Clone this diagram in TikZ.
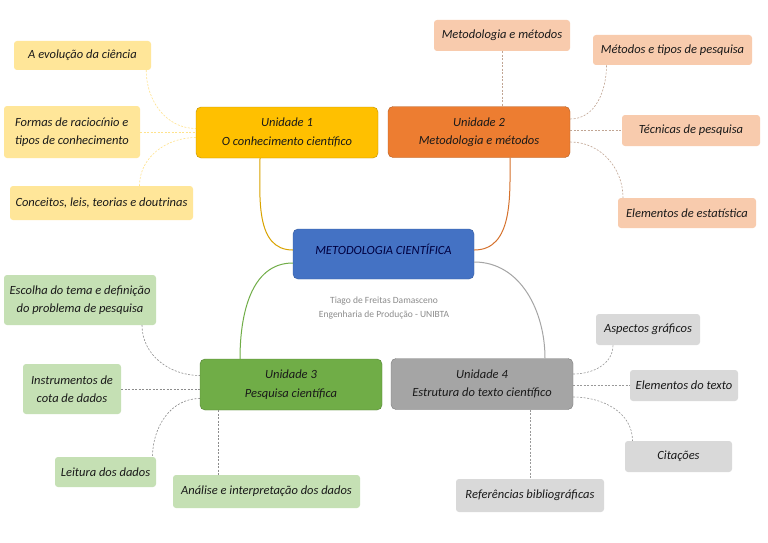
\documentclass[tikz,border=0pt]{standalone}
\usepackage{fontspec}
\setmainfont{Carlito}
\usepackage{tikz}
\usepackage{xcolor}
\definecolor{central-blue}{HTML}{4472C4}
\definecolor{u1-yellow}{HTML}{FFC000}
\definecolor{u2-orange}{HTML}{ED7D31}
\definecolor{u3-green}{HTML}{70AD47}
\definecolor{u4-gray}{HTML}{A5A5A5}
\definecolor{leaf-yellow}{HTML}{FFE699}
\definecolor{leaf-orange}{HTML}{F8CBAD}
\definecolor{leaf-green}{HTML}{C5E0B4}
\definecolor{leaf-gray}{HTML}{D9D9D9}
\tikzset{
    unit-box/.style = {rectangle, rounded corners=5pt, thin, minimum width=182pt, minimum height=51pt, align=center, inner sep=2pt, font=\fontsize{12.5}{18.5}\selectfont\itshape, text=black!90},
    leaf-box/.style = {rectangle, rounded corners=3pt, align=center, inner sep=2pt, font=\fontsize{12.5}{18.5}\selectfont\itshape, text=black!90},
    main-line/.style = {line width=1pt},
    leaf-line/.style = {line width=0.6pt, dash pattern=on 2pt off 1.5pt},
}

\begin{document}
\begin{tikzpicture}[x=1pt,y=1pt]
\fill[white] (0,0) rectangle (768,-543);

\node[unit-box, fill=central-blue, draw=central-blue!80!black, minimum width=181pt, minimum height=50pt, text depth=9pt, text=blue!25!black] (center) at (383.5,-254) {METODOLOGIA CIENTÍFICA};
\node[align=center, font=\fontsize{9.5}{14}\selectfont, text=black!45] (author) at (384,-308) {Tiago de Freitas Damasceno\\Engenharia de Produção - UNIBTA};

\node[unit-box, fill=u1-yellow, draw=u1-yellow!75!black] (u1) at (287,-132.5) {Unidade 1\\O conhecimento científico};
\node[unit-box, fill=u2-orange, draw=u2-orange!75!black] (u2) at (479,-132) {Unidade 2\\Metodologia e métodos};
\node[unit-box, fill=u3-green, draw=u3-green!75!black] (u3) at (291,-384.5) {Unidade 3\\Pesquisa científica};
\node[unit-box, fill=u4-gray, draw=u4-gray!75!black] (u4) at (482,-384) {Unidade 4\\Estrutura do texto científico};

\node[leaf-box, fill=leaf-yellow, minimum width=137pt, minimum height=29pt] (y1) at (82.5,-55.5) {A evolução da ciência};
\node[leaf-box, fill=leaf-yellow, minimum width=136pt, minimum height=52pt, align=left] (y2) at (72,-132) {Formas de raciocínio e\\tipos de conhecimento};
\node[leaf-box, fill=leaf-yellow, minimum width=183pt, minimum height=34pt] (y3) at (101.5,-203) {Conceitos, leis, teorias e doutrinas};

\node[leaf-box, fill=leaf-orange, minimum width=136pt, minimum height=31pt] (o1) at (502,-35.5) {Metodologia e métodos};
\node[leaf-box, fill=leaf-orange, minimum width=159pt, minimum height=30pt] (o2) at (672.5,-50) {Métodos e tipos de pesquisa};
\node[leaf-box, fill=leaf-orange, minimum width=138pt, minimum height=31pt] (o3) at (691,-130.5) {Técnicas de pesquisa};
\node[leaf-box, fill=leaf-orange, minimum width=138pt, minimum height=30pt] (o4) at (687,-213) {Elementos de estatística};

\node[leaf-box, fill=leaf-green, minimum width=152pt, minimum height=50pt] (g1) at (80,-300) {Escolha do tema e definição\\do problema de pesquisa};
\node[leaf-box, fill=leaf-green, minimum width=98pt, minimum height=50pt] (g2) at (72,-389) {Instrumentos de\\cota de dados};
\node[leaf-box, fill=leaf-green, minimum width=101pt, minimum height=30pt] (g3) at (105.5,-472) {Leitura dos dados};
\node[leaf-box, fill=leaf-green, minimum width=187pt, minimum height=33pt] (g4) at (266.5,-491.5) {Análise e interpretação dos dados};

\node[leaf-box, fill=leaf-gray, minimum width=104pt, minimum height=31pt] (c1) at (648,-329.5) {Aspectos gráficos};
\node[leaf-box, fill=leaf-gray, minimum width=108pt, minimum height=31pt] (c2) at (684,-385.5) {Elementos do texto};
\node[leaf-box, fill=leaf-gray, minimum width=107pt, minimum height=31pt] (c3) at (678.5,-456.5) {Citações};
\node[leaf-box, fill=leaf-gray, minimum width=148pt, minimum height=33pt] (c4) at (530,-495.5) {Referências bibliográficas};

\draw[main-line, draw=u1-yellow!85!black] ([xshift=-27pt]u1.south) to[out=-90, in=180] ([yshift=4pt]center.west);
\draw[main-line, draw=u2-orange!90!black] ([xshift=31pt]u2.south) to[out=-90, in=0] ([yshift=4pt]center.east);
\draw[main-line, draw=u3-green] ([yshift=-9pt]center.west) to[out=180, in=90] ([xshift=-51pt]u3.north);
\draw[main-line, draw=u4-gray] ([yshift=-8pt]center.east) to[out=0, in=90] ([xshift=63pt]u4.north);

\draw[leaf-line, draw=u1-yellow!45] ([xshift=-5pt]y1.south east) to[out=-90, in=180] ([yshift=4pt]u1.west);
\draw[leaf-line, draw=u1-yellow!45] (y2.east) -- (y2.east -| u1.west);
\draw[leaf-line, draw=u1-yellow!45] ([yshift=-5pt]u1.west) to[out=180, in=90] ([xshift=38pt]y3.north);

\draw[leaf-line, draw=u2-orange!35!gray!70] (o1.south) -- (o1.south |- u2.north);
\draw[leaf-line, draw=u2-orange!35!gray!70] ([yshift=13pt]u2.east) to[out=0, in=-90] ([xshift=-66pt]o2.south);
\draw[leaf-line, draw=u2-orange!35!gray!70] (o3.west -| u2.east) -- (o3.west);
\draw[leaf-line, draw=u2-orange!35!gray!70] ([yshift=-10pt]u2.east) to[out=0, in=90] ([xshift=-64pt]o4.north);

\draw[leaf-line, draw=black!45] ([xshift=62pt]g1.south) to[out=-90, in=180] ([yshift=9pt]u3.west);
\draw[leaf-line, draw=black!45] (g2.east) -- (g2.east -| u3.west);
\draw[leaf-line, draw=black!45] ([yshift=-14pt]u3.west) to[out=180, in=90] ([xshift=47pt]g3.north);
\draw[leaf-line, draw=black!45] ([xshift=-73pt]u3.south) -- ([xshift=-73pt]u3.south |- g4.north);

\draw[leaf-line, draw=black!40] ([yshift=10pt]u4.east) to[out=0, in=-90] ([xshift=-35pt]c1.south);
\draw[leaf-line, draw=black!40] (c2.west -| u4.east) -- (c2.west);
\draw[leaf-line, draw=black!40] ([yshift=-13pt]u4.east) to[out=0, in=90] ([xshift=-46pt]c3.north);
\draw[leaf-line, draw=black!40] ([xshift=48pt]u4.south) -- ([xshift=48pt]u4.south |- c4.north);
\end{tikzpicture}
\end{document}
